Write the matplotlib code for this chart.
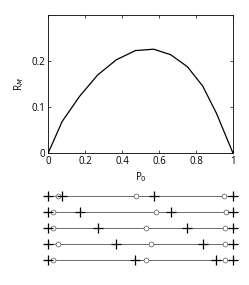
import matplotlib

matplotlib.use("Agg")
import matplotlib.pyplot as plt
import numpy as np

# curve R_M(P_0)
p0 = [0, 0.076, 0.171, 0.268, 0.369, 0.472, 0.571, 0.663, 0.753, 0.836, 0.910, 1.0]
rm = [0, 0.069, 0.124, 0.170, 0.203, 0.223, 0.226, 0.214, 0.188, 0.146, 0.087, 0]

# lower panel: one row per configuration, crosses and circles along [0, 1]
row_crosses = [
    [0, 0.076, 0.571, 1.0],
    [0, 0.171, 0.663, 1.0],
    [0, 0.268, 0.753, 1.0],
    [0, 0.369, 0.836, 1.0],
    [0, 0.472, 0.910, 1.0],
]
row_circles = [
    [0.052, 0.474, 0.953],
    [0.029, 0.584, 0.962],
    [0.029, 0.528, 0.958],
    [0.052, 0.559, 0.958],
    [0.029, 0.532, 0.958],
]

plt.rcParams["font.family"] = ["Open Sans", "DejaVu Sans"]
plt.rcParams["font.size"] = 7

fig = plt.figure(figsize=(2.49, 2.85), dpi=100)
ax = fig.add_axes([0.193, 0.462, 0.743, 0.485])
ax.plot(p0, rm, color="black", lw=0.9)
ax.set_xlim(0, 1); ax.set_ylim(0, 0.3)
ax.set_xticks(np.arange(0, 1.01, 0.2)); ax.set_xticklabels(["0", "0.2", "0.4", "0.6", "0.8", "1"])
ax.set_yticks([0, 0.1, 0.2]); ax.set_yticklabels(["0", "0.1", "0.2"])
ax.tick_params(direction="in", top=True, right=True, length=2.5, width=0.5, pad=2)
for s in ax.spines.values():
    s.set_linewidth(0.6)
ax.set_xlabel("P$_0$", labelpad=2)
ax.set_ylabel("R$_M$", labelpad=4)

bx = fig.add_axes([0.193, 0.060, 0.743, 0.281])
for i, (cr, ci) in enumerate(zip(row_crosses, row_circles), start=1):
    bx.plot([0, 1], [i, i], color="#555555", lw=0.6, zorder=1, clip_on=False)
    bx.plot(ci, [i] * len(ci), "o", ms=3.5, mfc="white", mec="#555555", mew=0.5, zorder=2, clip_on=False)
    bx.plot(cr, [i] * len(cr), "+", ms=7, color="black", mew=0.9, zorder=3, clip_on=False)
bx.set_xlim(0, 1); bx.set_ylim(5.5, 0.5)
bx.axis("off")

fig.savefig("out.png", dpi=100)
